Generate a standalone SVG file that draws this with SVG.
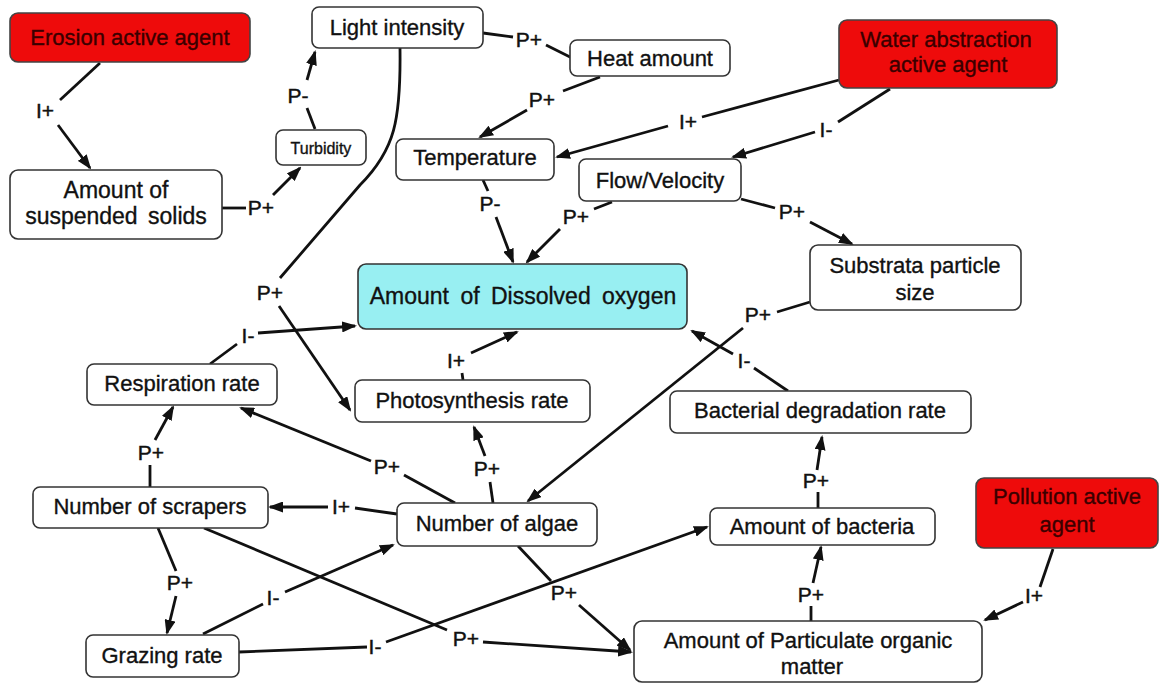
<svg xmlns="http://www.w3.org/2000/svg" width="1162" height="685" viewBox="0 0 1162 685">
<defs>
<style>
.box{fill:#fff;stroke:#333;stroke-width:1.6}
.red{fill:#ee0b0b;stroke:#444;stroke-width:1.6}
.do{fill:#98eff2;stroke:#333;stroke-width:1.6}
.t{font-family:"Liberation Sans",Arial,sans-serif;font-size:22px;fill:#111;stroke:#111;stroke-width:0.35;text-anchor:middle}
.tr{font-family:"Liberation Sans",Arial,sans-serif;font-size:22px;fill:#3a0000;stroke:#3a0000;stroke-width:0.35;text-anchor:middle}
.lb{font-family:"Liberation Sans",Arial,sans-serif;font-size:21px;fill:#111;stroke:#111;stroke-width:0.45;text-anchor:middle}
.c line,.c path{stroke:#111;stroke-width:2.8;fill:none}
.a{marker-end:url(#ah)}
</style>
<marker id="ah" viewBox="0 0 15 11" refX="13" refY="5.5" markerWidth="15" markerHeight="11" markerUnits="userSpaceOnUse" orient="auto">
<path d="M0,0 L15,5.5 L0,11 z" fill="#111"/>
</marker>
</defs>
<rect width="1162" height="685" fill="#fff"/>

<g id="connectors" class="c">
<line x1="100" y1="63" x2="60" y2="100"/><line class="a" x1="58" y1="125" x2="90" y2="168"/>
<line x1="222" y1="208" x2="246" y2="208"/><line class="a" x1="273" y1="195" x2="300" y2="168"/>
<line x1="315" y1="129" x2="307" y2="108"/><line class="a" x1="307" y1="80" x2="315" y2="52"/>
<line x1="483" y1="33" x2="513" y2="37"/><line x1="546" y1="45" x2="572" y2="58"/>
<line x1="600" y1="77" x2="563" y2="91"/><line class="a" x1="527" y1="110" x2="480" y2="137"/>
<line x1="839" y1="80" x2="702" y2="117"/><line class="a" x1="668" y1="126" x2="557" y2="157"/>
<line x1="890" y1="89" x2="838" y2="122"/><line class="a" x1="815" y1="132" x2="733" y2="157"/>
<line x1="483" y1="180" x2="488" y2="191"/><line class="a" x1="496" y1="217" x2="513" y2="262"/>
<line x1="612" y1="202" x2="594" y2="209"/><line class="a" x1="560" y1="229" x2="527" y2="262"/>
<line x1="741" y1="199" x2="775" y2="208"/><line class="a" x1="810" y1="222" x2="852" y2="244"/>
<path d="M400,48 C401,120 395,150 360,185 L280,278"/><line class="a" x1="279" y1="306" x2="350" y2="410"/>
<line x1="210" y1="364" x2="237" y2="344"/><line class="a" x1="258" y1="333" x2="355" y2="326"/>
<line x1="463" y1="380" x2="462" y2="373"/><line class="a" x1="471" y1="353" x2="517" y2="332"/>
<line x1="810" y1="302" x2="777" y2="312"/><line class="a" x1="743" y1="328" x2="528" y2="501"/>
<line x1="788" y1="391" x2="754" y2="368"/><line class="a" x1="733" y1="354" x2="692" y2="331"/>
<line x1="818" y1="508" x2="818" y2="492"/><line class="a" x1="817" y1="470" x2="822" y2="437"/>
<line x1="811" y1="621" x2="811" y2="606"/><line class="a" x1="813" y1="583" x2="821" y2="547"/>
<line x1="1053" y1="549" x2="1040" y2="587"/><line class="a" x1="1023" y1="602" x2="985" y2="620"/>
<line x1="455" y1="503" x2="404" y2="475"/><line class="a" x1="371" y1="461" x2="241" y2="408"/>
<line x1="493" y1="503" x2="490" y2="482"/><line class="a" x1="485" y1="456" x2="474" y2="427"/>
<line x1="397" y1="514" x2="355" y2="508"/><line class="a" x1="328" y1="507" x2="270" y2="507"/>
<line x1="150" y1="487" x2="150" y2="465"/><line class="a" x1="155" y1="440" x2="173" y2="407"/>
<line x1="158" y1="528" x2="176" y2="571"/><line class="a" x1="176" y1="596" x2="167" y2="633"/>
<line x1="204" y1="528" x2="447" y2="630"/><line class="a" x1="483" y1="642" x2="631" y2="652"/>
<line x1="203" y1="634" x2="263" y2="604"/><line class="a" x1="285" y1="592" x2="393" y2="545"/>
<line x1="239" y1="652" x2="367" y2="647"/><line class="a" x1="386" y1="642" x2="707" y2="527"/>
<line x1="518" y1="546" x2="551" y2="581"/><line class="a" x1="579" y1="605" x2="630" y2="650"/>
</g>

<g id="labels">
<text class="lb" x="45" y="118">I+</text>
<text class="lb" x="261" y="215">P+</text>
<text class="lb" x="298" y="103">P-</text>
<text class="lb" x="529" y="47">P+</text>
<text class="lb" x="542" y="107">P+</text>
<text class="lb" x="688" y="129">I+</text>
<text class="lb" x="826" y="137">I-</text>
<text class="lb" x="490" y="211">P-</text>
<text class="lb" x="576" y="224">P+</text>
<text class="lb" x="792" y="219">P+</text>
<text class="lb" x="270" y="300">P+</text>
<text class="lb" x="248" y="343">I-</text>
<text class="lb" x="456" y="368">I+</text>
<text class="lb" x="758" y="322">P+</text>
<text class="lb" x="744" y="368">I-</text>
<text class="lb" x="816" y="488">P+</text>
<text class="lb" x="811" y="602">P+</text>
<text class="lb" x="1034" y="603">I+</text>
<text class="lb" x="387" y="474">P+</text>
<text class="lb" x="487" y="476">P+</text>
<text class="lb" x="341" y="514">I+</text>
<text class="lb" x="151" y="460">P+</text>
<text class="lb" x="180" y="590">P+</text>
<text class="lb" x="466" y="646">P+</text>
<text class="lb" x="273" y="605">I-</text>
<text class="lb" x="375" y="654">I-</text>
<text class="lb" x="564" y="600">P+</text>
</g>

<g id="erosion"><rect class="red" x="10" y="13" width="240" height="49" rx="8"/><text class="tr" x="130" y="45">Erosion active agent</text></g>
<g id="light"><rect class="box" x="312" y="7" width="171" height="41" rx="7"/><text class="t" x="397" y="35">Light intensity</text></g>
<g id="heat"><rect class="box" x="570" y="40" width="160" height="36" rx="7"/><text class="t" x="650" y="66">Heat amount</text></g>
<g id="water"><rect class="red" x="839" y="20" width="218" height="68" rx="8"/><text class="tr" x="946" y="47">Water abstraction</text><text class="tr" x="948" y="72">active agent</text></g>
<g id="turbidity"><rect class="box" x="276" y="130" width="90" height="35" rx="7"/><text class="t" x="321" y="154" style="font-size:16px">Turbidity</text></g>
<g id="suspended"><rect class="box" x="10" y="170" width="212" height="69" rx="8"/><text class="t" x="116" y="198" style="font-size:23px">Amount of</text><text class="t" x="116" y="224" style="font-size:23px;word-spacing:4px">suspended solids</text></g>
<g id="temperature"><rect class="box" x="396" y="139" width="158" height="41" rx="7"/><text class="t" x="475" y="165">Temperature</text></g>
<g id="flow"><rect class="box" x="579" y="159" width="162" height="42" rx="7"/><text class="t" x="660" y="188">Flow/Velocity</text></g>
<g id="dissolved-oxygen"><rect class="do" x="358" y="264" width="329" height="65" rx="8"/><text class="t" x="523" y="304" style="font-size:23px;word-spacing:5px">Amount of Dissolved oxygen</text></g>
<g id="substrata"><rect class="box" x="810" y="245" width="211" height="65" rx="8"/><text class="t" x="915" y="273">Substrata particle</text><text class="t" x="915" y="300">size</text></g>
<g id="respiration"><rect class="box" x="87" y="364" width="190" height="41" rx="7"/><text class="t" x="182" y="391">Respiration rate</text></g>
<g id="photosynthesis"><rect class="box" x="355" y="380" width="235" height="42" rx="7"/><text class="t" x="472" y="408">Photosynthesis rate</text></g>
<g id="bacterial-degradation"><rect class="box" x="670" y="391" width="301" height="42" rx="7"/><text class="t" x="820" y="418">Bacterial degradation rate</text></g>
<g id="scrapers"><rect class="box" x="33" y="487" width="235" height="41" rx="7"/><text class="t" x="150" y="514">Number of scrapers</text></g>
<g id="algae"><rect class="box" x="397" y="503" width="200" height="43" rx="7"/><text class="t" x="497" y="531">Number of algae</text></g>
<g id="bacteria"><rect class="box" x="710" y="508" width="225" height="37" rx="7"/><text class="t" x="822" y="534">Amount of bacteria</text></g>
<g id="pollution"><rect class="red" x="976" y="478" width="182" height="70" rx="8"/><text class="tr" x="1067" y="504">Pollution active</text><text class="tr" x="1067" y="532">agent</text></g>
<g id="grazing"><rect class="box" x="86" y="635" width="153" height="42" rx="7"/><text class="t" x="162" y="663">Grazing rate</text></g>
<g id="pom"><rect class="box" x="634" y="621" width="348" height="61" rx="8"/><text class="t" x="808" y="648">Amount of Particulate organic</text><text class="t" x="812" y="674">matter</text></g>
</svg>
